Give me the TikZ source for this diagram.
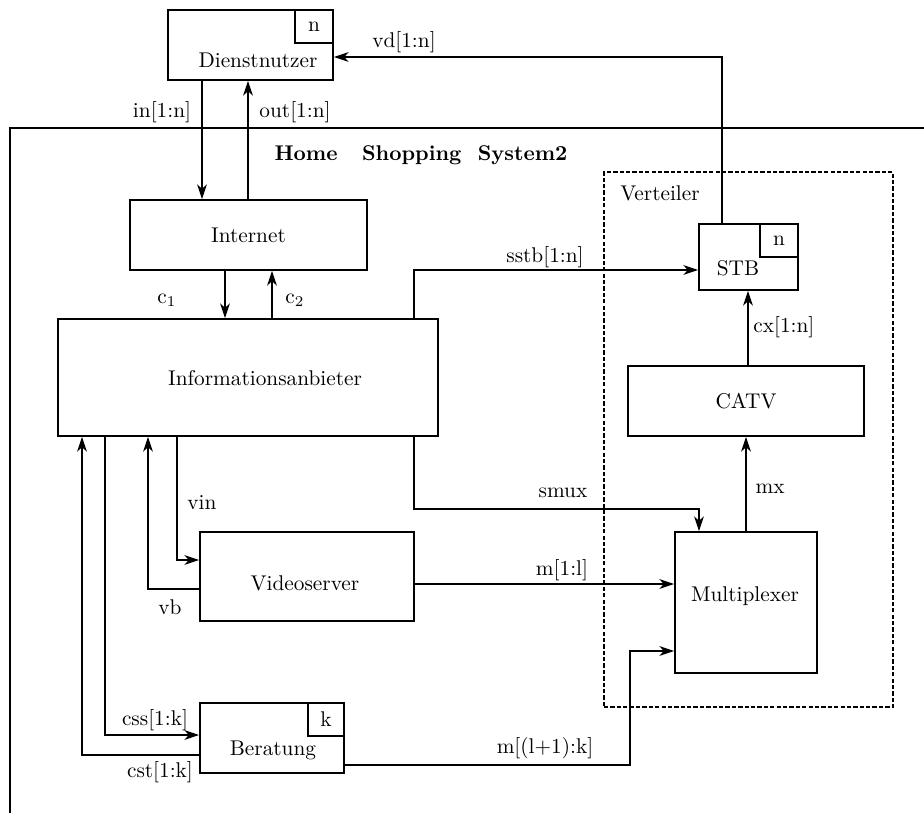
\documentclass[tikz,border=0pt]{standalone}
\usepackage{tikz}
\usetikzlibrary{positioning,calc,arrows.meta}
\newcommand{\pu}{0.0165cm}

\tikzset{
  blk/.style={draw, line width=0.9pt, inner sep=0pt},
  sub/.style={draw, line width=0.9pt, inner sep=0pt, anchor=north east,
    minimum width={38*\pu}, minimum height={33*\pu}},
  con/.style={line width=0.9pt, -{Stealth[length=2.4mm, width=1.6mm, inset=0.7mm]}},
  wire/.style={line width=0.9pt},
  lbl/.style={inner sep=0pt}
}

\begin{document}
\begin{tikzpicture}[x=\pu, y=-\pu]
  \useasboundingbox (0,0) rectangle (924,813);

  % system frame
  \coordinate (fr1) at (10,813);
  \coordinate (fr2) at (10,128);
  \coordinate (fr3) at (924,128);
  \draw[wire] (fr1) -- (fr2) -- (fr3);
  \node[lbl] (title) at (421,155) {\textbf{Home\ \ \ Shopping\ \ System2}};

  % Verteiler
  \node[draw, dash pattern=on 2pt off 1pt, line width=0.9pt, minimum width={289*\pu}, minimum height={535*\pu}] (vt) at (748.5,439.5) {};
  \node[lbl] (vtl) at (660,193) {Verteiler};

  % boxes
  \node[blk, minimum width={165*\pu}, minimum height={70*\pu}] (dn) at (250.5,45) {};
  \node[sub] (dnn) at (dn.north east) {n};
  \node[lbl] (dnt) at (258,60) {Dienstnutzer};

  \node[blk, minimum width={237*\pu}, minimum height={70*\pu}] (inet) at (248.5,235) {Internet};
  \node[blk, minimum width={380*\pu}, minimum height={117*\pu}] (ia) at (248,377.5) {};
  \node[lbl] (iat) at (265,378) {Informationsanbieter};
  \node[blk, minimum width={214*\pu}, minimum height={89*\pu}] (vs) at (307,576.5) {};
  \node[lbl] (vst) at (305,583) {Videoserver};

  \node[blk, minimum width={144*\pu}, minimum height={70*\pu}] (ber) at (272,738) {};
  \node[sub, minimum width={36*\pu}] (berk) at (ber.north east) {k};
  \node[lbl] (bert) at (273,750) {Beratung};

  \node[blk, minimum width={99*\pu}, minimum height={66*\pu}] (stb) at (748.5,257) {};
  \node[sub] (stbn) at (stb.north east) {n};
  \node[lbl] (stbt) at (738,268) {STB};
  \node[blk, minimum width={236*\pu}, minimum height={70*\pu}] (catv) at (746,401) {CATV};
  \node[blk, minimum width={142*\pu}, minimum height={141*\pu}] (mux) at (746,602.5) {};
  \node[lbl] (muxt) at (745,596) {Multiplexer};

  % connections
  \draw[con] (dn.south -| 202,0) -- (inet.north -| 202,0);
  \draw[con] (inet.north -| 248,0) -- (dn.south -| 248,0);
  \draw[con] (stb.north -| 722,0) |- (dn.east |- 0,57);
  \draw[con] (inet.south -| 225,0) -- (ia.north -| 225,0);
  \draw[con] (ia.north -| 272,0) -- (inet.south -| 272,0);
  \draw[con] (ia.north -| 414,0) |- (stb.west |- 0,270);
  \draw[con] (catv.north -| 748,0) -- (stb.south -| 748,0);
  \draw[con] (mux.north -| 746,0) -- (catv.south -| 746,0);
  \draw[con] (ia.south -| 414,0) -- ++(0,72) -| (mux.north -| 699,0);
  \draw[con] (vs.east |- 0,584) -- (mux.west |- 0,584);
  \draw[con] (ia.south -| 177,0) |- (vs.west |- 0,560);
  \draw[con] (vs.west |- 0,589) -| (ia.south -| 148,0);
  \draw[con] (ia.south -| 105,0) |- (ber.west |- 0,735);
  \draw[con] (ber.west |- 0,755) -| (ia.south -| 82,0);
  \draw[con] (ber.east |- 0,765) -- ++(285,0) |- (mux.west |- 0,651);

  % labels
  \node[lbl] at (404,42) {vd[1:n]};
  \node[lbl] at (162,112) {in[1:n]};
  \node[lbl] at (295,112) {out[1:n]};
  \node[lbl] at (167,300) {c$_1$};
  \node[lbl] at (295,300) {c$_2$};
  \node[lbl] at (545,257) {sstb[1:n]};
  \node[lbl, anchor=west] at (753,327) {cx[1:n]};
  \node[lbl] at (563,493) {smux};
  \node[lbl] at (770,489) {mx};
  \node[lbl] at (202,503) {vin};
  \node[lbl] at (170,607) {vb};
  \node[lbl] at (562,570) {m[1:l]};
  \node[lbl] at (155,720) {css[1:k]};
  \node[lbl] at (160,772) {cst[1:k]};
  \node[lbl] at (545,748) {m[(l+1):k]};
\end{tikzpicture}
\end{document}
